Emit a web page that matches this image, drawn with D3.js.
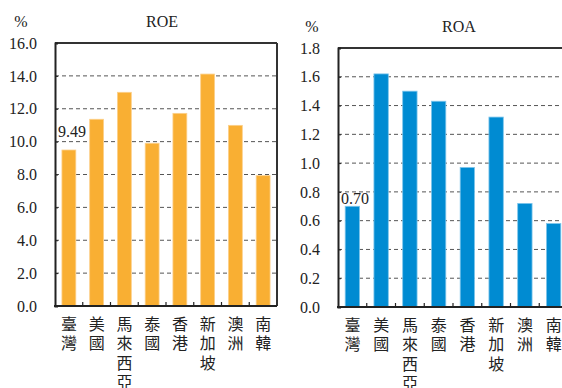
<!DOCTYPE html>
<html><head><meta charset="utf-8">
<script src="https://cdn.jsdelivr.net/npm/d3@7"></script>
<style>body{margin:0;background:#fff;}svg{display:block;}
.num{font-family:"Liberation Serif","Times New Roman",Times,serif;}
</style>
</head><body>
<svg id="c" width="562" height="388"></svg>
<script>
const categories = ["臺灣","美國","馬來西亞","泰國","香港","新加坡","澳洲","南韓"];
const roeValues = [9.49, 11.36, 13.0, 9.9, 11.72, 14.11, 10.99, 7.93];
const roaValues = [0.70, 1.62, 1.50, 1.43, 0.97, 1.32, 0.72, 0.58];
const roeTicks = [0, 2, 4, 6, 8, 10, 12, 14, 16];
const roaTicks = [0, 0.2, 0.4, 0.6, 0.8, 1.0, 1.2, 1.4, 1.6, 1.8];

const svg = d3.select("#c");
const cjkFont = "Noto Sans CJK TC, Noto Sans CJK SC, sans-serif";

function panel(cfg){
  const g = svg.append("g");
  const x = d3.scaleBand().domain(categories).range([cfg.left, cfg.right]).paddingInner(0.5).paddingOuter(0.25);
  const y = d3.scaleLinear().domain([0, cfg.max]).range([cfg.bottom, cfg.top]);
  g.selectAll("line.grid").data(cfg.ticks.filter(t => t > 0 && t < cfg.max)).enter().append("line")
    .attr("x1", cfg.left).attr("x2", cfg.right)
    .attr("y1", d => y(d)).attr("y2", d => y(d))
    .attr("stroke", "#555").attr("stroke-width", 1).attr("stroke-dasharray", "4,3");
  g.append("line").attr("x1", cfg.left).attr("x2", cfg.right).attr("y1", cfg.top).attr("y2", cfg.top)
    .attr("stroke", "#333").attr("stroke-width", 2);
  if (cfg.rightBorder) {
    g.append("line").attr("x1", cfg.right).attr("x2", cfg.right).attr("y1", cfg.top).attr("y2", cfg.bottom)
      .attr("stroke", "#333").attr("stroke-width", 2);
  }
  g.selectAll("rect.bar").data(cfg.values).enter().append("rect")
    .attr("x", (d,i) => x(categories[i])).attr("width", x.bandwidth())
    .attr("y", d => y(d)).attr("height", d => cfg.bottom - y(d))
    .attr("fill", cfg.color).attr("stroke", cfg.edge).attr("stroke-width", 0.8);
  const ya = d3.axisLeft(y).tickValues(cfg.ticks).tickFormat(d3.format(".1f")).tickSize(-3).tickPadding(cfg.tickPad);
  const yg = g.append("g").attr("transform", `translate(${cfg.left},0)`).call(ya);
  yg.attr("font-family", null);
  yg.select(".domain").attr("stroke", "#222").attr("stroke-width", 2);
  yg.selectAll(".tick line").attr("stroke", "#222");
  yg.selectAll("text").attr("class", "num").attr("font-size", 16).attr("fill", "#222");
  const boundaries = categories.slice(1).map(c => x(c) - x.step()*x.paddingInner()/2);
  g.selectAll("line.xt").data(boundaries).enter().append("line")
    .attr("x1", d => d).attr("x2", d => d).attr("y1", cfg.bottom).attr("y2", cfg.bottom - 4)
    .attr("stroke", "#222").attr("stroke-width", 1.2);
  g.append("line").attr("x1", cfg.left - 1).attr("x2", cfg.right).attr("y1", cfg.bottom).attr("y2", cfg.bottom)
    .attr("stroke", "#222").attr("stroke-width", 2);
  g.selectAll("text.cat").data(categories).enter().append("text")
    .attr("x", c => x(c) + x.bandwidth()/2).attr("y", cfg.bottom + 10)
    .style("writing-mode", "vertical-rl").style("text-orientation", "upright")
    .attr("letter-spacing", 3.3)
    .attr("font-family", cjkFont).attr("font-size", 16).attr("fill", "#222")
    .text(c => c);
  g.append("text").attr("class", "num").attr("x", cfg.left + 3).attr("y", y(cfg.values[0]) - cfg.labelOff)
    .attr("font-size", 16).attr("fill", "#222")
    .text(cfg.labelFmt(cfg.values[0]));
  g.append("text").attr("class", "num").attr("x", cfg.unitX).attr("y", cfg.titleY).attr("text-anchor", "middle")
    .attr("font-size", 16).attr("fill", "#222").text("%");
  g.append("text").attr("class", "num").attr("x", cfg.titleX).attr("y", cfg.titleY).attr("text-anchor", "middle")
    .attr("font-size", 16).attr("fill", "#222").text(cfg.title);
}

panel({left:55, right:277, top:43, bottom:306, max:16, ticks:roeTicks, values:roeValues,
  color:"#F9AF33", edge:"#FCD08A", rightBorder:true, labelFmt:d3.format(".2f"), labelOff:13, tickPad:18,
  unitX:21, titleX:162, titleY:27, title:"ROE"});
panel({left:338, right:568, top:48, bottom:307, max:1.8, ticks:roaTicks, values:roaValues,
  color:"#008BD2", edge:"#7FC6EC", rightBorder:false, labelFmt:d3.format(".2f"), labelOff:2, tickPad:18,
  unitX:312, titleX:459, titleY:32, title:"ROA"});
</script>
</body></html>
